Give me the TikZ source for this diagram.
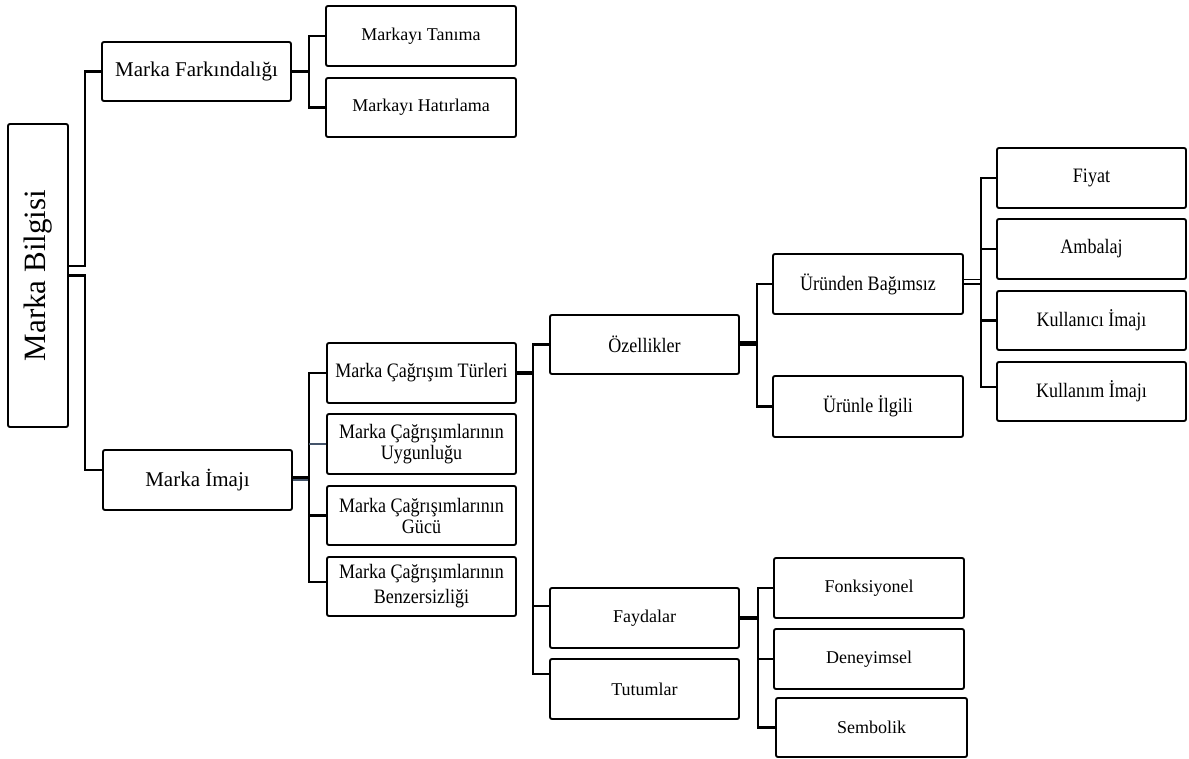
\documentclass[tikz,border=0pt]{standalone}
\usepackage{fontspec}
\setmainfont{Liberation Serif}
\newfontfamily\condf{Liberation Serif}[FakeStretch=0.88]
\definecolor{slate}{HTML}{44546A}
\begin{document}
\begin{tikzpicture}[x=1pt,y=-1pt,
  box/.style={draw, line width=1.9pt, rounded corners=2pt, minimum height=60pt,
    minimum width=190pt, inner sep=0pt, align=center,
    font=\fontsize{18}{21}\selectfont},
  cbox/.style={box, font=\condf\fontsize{20.5}{21}\selectfont},
  conn/.style={line width=2.8pt},
  thinconn/.style={line width=2.1pt}]
\useasboundingbox (0,0) rectangle (1189,759);

% nodes
\node[box, minimum width=60pt, minimum height=303pt] (bil) at (38,275.5)
  {\rotatebox{90}{\fontsize{31}{36}\selectfont Marka Bilgisi}};
\node[box, minimum width=189pt, minimum height=59pt, font=\fontsize{21}{24}\selectfont] (far) at (196.5,71.5) {Marka Farkındalığı};
\node[box] (tan) at (421,36) {Markayı Tanıma};
\node[box, minimum height=59pt] (hat) at (421,107.5) {Markayı Hatırlama};
\node[box, minimum width=189pt, font=\fontsize{21}{24}\selectfont] (ima) at (197.5,480) {Marka İmajı};

\node[cbox, minimum width=189pt] (tur) at (421.5,373) {Marka Çağrışım Türleri};
\node[cbox, minimum width=189pt] (uyg) at (421.5,444) {Marka Çağrışımlarının\\Uygunluğu};
\node[cbox, minimum width=189pt, minimum height=59pt] (guc) at (421.5,515.5) {Marka Çağrışımlarının\\Gücü};
\node[cbox, minimum width=189pt, minimum height=59pt, font=\condf\fontsize{20.5}{25}\selectfont] (ben) at (421.5,586.5) {Marka Çağrışımlarının\\Benzersizliği};

\node[cbox, minimum width=189pt, minimum height=59pt] (oze) at (644.5,344.5) {Özellikler};
\node[box, minimum width=189pt] (fay) at (644.5,618) {Faydalar};
\node[box, minimum width=189pt] (tut) at (644.5,689) {Tutumlar};

\node[cbox] (urb) at (868,284) {Üründen Bağımsız};
\node[cbox, minimum height=61pt] (uri) at (868,406.5) {Ürünle İlgili};

\node[cbox, minimum width=189pt] (fiy) at (1091.5,178) {Fiyat};
\node[cbox, minimum width=189pt] (amb) at (1091.5,249) {Ambalaj};
\node[cbox, minimum width=189pt, minimum height=59pt] (kui) at (1091.5,320.5) {Kullanıcı İmajı};
\node[cbox, minimum width=189pt, minimum height=59pt] (kum) at (1091.5,391.5) {Kullanım İmajı};

\node[box] (fon) at (869,588) {Fonksiyonel};
\node[box] (den) at (869,659) {Deneyimsel};
\node[box, minimum width=191pt, minimum height=59pt] (sem) at (871.5,727.5) {Sembolik};

% Marka Bilgisi connectors
\draw[thinconn] ([yshift=9.5pt]bil.east) -- ++(16,0) |- (far.west);
\draw[thinconn] (bil.east) -- ++(16,0) |- ([yshift=10pt]ima.west);

% Marka Farkindaligi
\draw[line width=3.5pt] (far.east) -- ++(17,0) coordinate (farb);
\draw[conn] (farb) |- (tan.west);
\draw[conn] (farb) |- (hat.west);

% Marka Imaji
\draw[line width=3pt] ([yshift=3pt]ima.east) -- ++(16,0) coordinate (imab);
\draw[slate, line width=2.2pt] (ima.east) -- ++(16,0);
\draw[conn] (imab) |- (tur.west);
\draw[conn] (imab) |- (guc.west);
\draw[conn] (imab) |- ([yshift=4.5pt]ben.west);
\draw[slate, line width=2.2pt] (imab |- uyg.west) -- (uyg.west);

% Marka Cagrisim Turleri
\draw[line width=3.5pt] (tur.east) -- ++(16,0) coordinate (turb);
\draw[conn] (turb) |- (oze.west);
\draw[conn] (turb) |- ([yshift=12pt]fay.west);
\draw[conn] (turb) |- ([yshift=15pt]tut.west);

% Ozellikler
\draw[line width=4.5pt] ([yshift=1pt]oze.east) -- ++(17,0) coordinate (ozeb);
\draw[conn] (ozeb) |- (urb.west);
\draw[conn] (ozeb) |- (uri.west);

% Urunden Bagimsiz
\draw[line width=1.8pt] ([yshift=4.5pt]urb.east) -- ++(17,0);
\draw[line width=1.8pt] (urb.east) -- ++(17,0) coordinate (urbb);
\draw[conn] (urbb) |- (fiy.west);
\draw[conn] (urbb) |- (amb.west);
\draw[conn] (urbb) |- (kui.west);
\draw[conn] (urbb) |- ([yshift=4.5pt]kum.west);

% Faydalar
\draw[line width=4pt] (fay.east) -- ++(18,0) coordinate (fayb);
\draw[conn] (fayb) |- (fon.west);
\draw[conn] (fayb) |- (den.west);
\draw[conn] (fayb) |- (sem.west);
\end{tikzpicture}
\end{document}
